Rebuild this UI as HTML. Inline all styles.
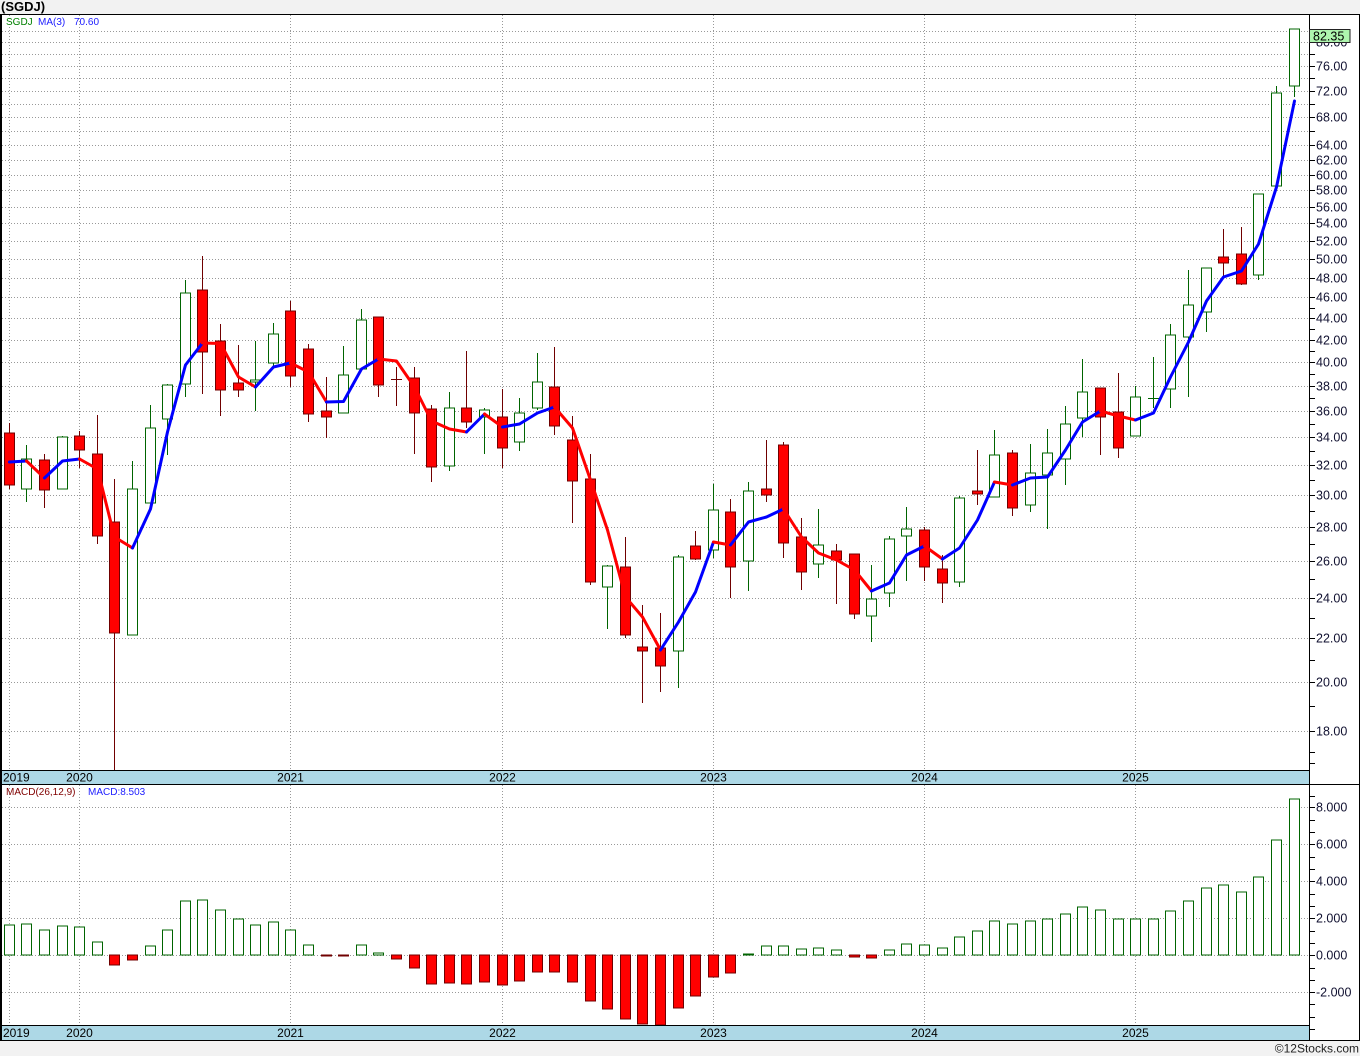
<!DOCTYPE html>
<html><head><meta charset="utf-8"><style>
html,body{margin:0;padding:0;background:#f2f2f2;}
svg{display:block;}
text{font-family:"Liberation Sans",Arial,sans-serif;}
</style></head><body>
<svg width="1360" height="1056" viewBox="0 0 1360 1056" xmlns="http://www.w3.org/2000/svg">
<rect x="0" y="0" width="1360" height="1056" fill="#f2f2f2"/>
<rect x="0" y="14" width="1360" height="1026" fill="#ffffff"/>
<text x="1" y="11" font-size="13" font-weight="bold" fill="#000">(SGDJ)</text>

<!-- horizontal price gridlines -->
<g stroke="#999" stroke-width="1" stroke-dasharray="1,2" shape-rendering="crispEdges">
<path d="M2 731.5H1309M2 682.5H1309M2 638.5H1309M2 598.5H1309M2 561.5H1309M2 527.5H1309M2 495.5H1309M2 465.5H1309M2 437.5H1309M2 411.5H1309M2 386.5H1309M2 362.5H1309M2 340.5H1309M2 318.5H1309M2 297.5H1309M2 278.5H1309M2 259.5H1309M2 241.5H1309M2 223.5H1309M2 207.5H1309M2 190.5H1309M2 175.5H1309M2 160.5H1309M2 145.5H1309M2 131.5H1309M2 117.5H1309M2 104.5H1309M2 91.5H1309M2 78.5H1309M2 66.5H1309M2 54.5H1309M2 42.5H1309M2 31.5H1309"/>
<path d="M9.5 15V770M79.5 15V770M290.5 15V770M502.5 15V770M713.5 15V770M924.5 15V770M1135.5 15V770"/>
<path d="M2 807.5H1309M2 844.5H1309M2 881.5H1309M2 918.5H1309M2 955.5H1309M2 992.5H1309"/>
<path d="M9.5 785V1025M79.5 785V1025M290.5 785V1025M502.5 785V1025M713.5 785V1025M924.5 785V1025M1135.5 785V1025"/>
</g>

<!-- wicks -->
<path fill="none" stroke="#700000" stroke-width="1" shape-rendering="crispEdges" d="M9.5 423V489M44.5 454V508M79.5 431V468M97.5 415V544M114.5 479V770M202.5 256V394M220.5 324V416M238.5 345V397M290.5 301V387M308.5 344V422M326.5 377V438M378.5 317V397M396.5 367V406M414.5 367V454M431.5 405V482M466.5 351V428M502.5 389V468M554.5 347V435M572.5 416V523M590.5 454V585M625.5 537V638M642.5 605V703M660.5 613V692M695.5 531V560M730.5 499V598M766.5 440V502M783.5 442V558M801.5 518V590M836.5 544V604M854.5 554V619M924.5 527V581M942.5 555V603M977.5 450V505M1012.5 450V516M1100.5 388V455M1118.5 373V458M1223.5 229V276M1241.5 227V285"/>
<path fill="none" stroke="#006400" stroke-width="1" shape-rendering="crispEdges" d="M26.5 445V502M62.5 436V489M132.5 461V635M150.5 405V503M167.5 384V455M185.5 280V397M255.5 341V411M273.5 323V368M343.5 346V413M361.5 309V369M449.5 392V471M484.5 408V454M519.5 398V451M537.5 353V410M607.5 565V629M678.5 555V688M713.5 484V558M748.5 482V591M818.5 509V578M871.5 565V642M889.5 536V607M906.5 507V581M959.5 496V587M994.5 430V497M1030.5 444V512M1047.5 429V529M1065.5 406V485M1082.5 359V437M1135.5 386V436M1153.5 357V408M1170.5 324V408M1188.5 270V397M1206.5 268V332M1258.5 194V280M1276.5 86V186M1294.5 29V97"/>

<!-- red bodies -->
<g fill="#ff0000" stroke="#700000" stroke-width="1" shape-rendering="crispEdges">
<rect x="4.5" y="433" width="10" height="52"/>
<rect x="39.5" y="460" width="10" height="30"/>
<rect x="74.5" y="436" width="10" height="14"/>
<rect x="92.5" y="454" width="10" height="82"/>
<rect x="109.5" y="522" width="10" height="111"/>
<rect x="197.5" y="290" width="10" height="62"/>
<rect x="215.5" y="341" width="10" height="49"/>
<rect x="233.5" y="383" width="10" height="7"/>
<rect x="285.5" y="311" width="10" height="65"/>
<rect x="303.5" y="349" width="10" height="65"/>
<rect x="321.5" y="411" width="10" height="6"/>
<rect x="373.5" y="317" width="10" height="68"/>
<rect x="409.5" y="378" width="10" height="35"/>
<rect x="426.5" y="409" width="10" height="58"/>
<rect x="461.5" y="408" width="10" height="14"/>
<rect x="497.5" y="417" width="10" height="31"/>
<rect x="549.5" y="387" width="10" height="39"/>
<rect x="567.5" y="440" width="10" height="41"/>
<rect x="585.5" y="479" width="10" height="103"/>
<rect x="620.5" y="567" width="10" height="68"/>
<rect x="637.5" y="647" width="10" height="4"/>
<rect x="655.5" y="648" width="10" height="18"/>
<rect x="690.5" y="546" width="10" height="13"/>
<rect x="725.5" y="512" width="10" height="55"/>
<rect x="761.5" y="489" width="10" height="6"/>
<rect x="778.5" y="445" width="10" height="98"/>
<rect x="796.5" y="537" width="10" height="35"/>
<rect x="831.5" y="551" width="10" height="9"/>
<rect x="849.5" y="554" width="10" height="60"/>
<rect x="919.5" y="530" width="10" height="37"/>
<rect x="937.5" y="569" width="10" height="14"/>
<rect x="972.5" y="491" width="10" height="3"/>
<rect x="1007.5" y="453" width="10" height="55"/>
<rect x="1095.5" y="388" width="10" height="29"/>
<rect x="1113.5" y="412" width="10" height="36"/>
<rect x="1218.5" y="257" width="10" height="6"/>
<rect x="1236.5" y="254" width="10" height="30"/>
</g>
<path d="M391 379.5H402" stroke="#700000" stroke-width="1" shape-rendering="crispEdges"/>

<!-- green bodies -->
<g fill="#ffffff" stroke="#006400" stroke-width="1" shape-rendering="crispEdges">
<rect x="21.5" y="459" width="10" height="30"/>
<rect x="57.5" y="437" width="10" height="52"/>
<rect x="127.5" y="489" width="10" height="146"/>
<rect x="145.5" y="428" width="10" height="75"/>
<rect x="162.5" y="385" width="10" height="34"/>
<rect x="180.5" y="293" width="10" height="91"/>
<rect x="250.5" y="380" width="10" height="2"/>
<rect x="268.5" y="334" width="10" height="29"/>
<rect x="338.5" y="375" width="10" height="38"/>
<rect x="356.5" y="320" width="10" height="49"/>
<rect x="444.5" y="408" width="10" height="58"/>
<rect x="479.5" y="410" width="10" height="7"/>
<rect x="514.5" y="413" width="10" height="29"/>
<rect x="532.5" y="382" width="10" height="26"/>
<rect x="602.5" y="566" width="10" height="21"/>
<rect x="673.5" y="557" width="10" height="94"/>
<rect x="708.5" y="510" width="10" height="40"/>
<rect x="743.5" y="491" width="10" height="70"/>
<rect x="813.5" y="545" width="10" height="19"/>
<rect x="866.5" y="599" width="10" height="17"/>
<rect x="884.5" y="539" width="10" height="54"/>
<rect x="901.5" y="529" width="10" height="7"/>
<rect x="954.5" y="498" width="10" height="84"/>
<rect x="989.5" y="455" width="10" height="42"/>
<rect x="1025.5" y="473" width="10" height="32"/>
<rect x="1042.5" y="453" width="10" height="22"/>
<rect x="1060.5" y="424" width="10" height="35"/>
<rect x="1077.5" y="392" width="10" height="26"/>
<rect x="1130.5" y="397" width="10" height="39"/>
<rect x="1165.5" y="335" width="10" height="54"/>
<rect x="1183.5" y="305" width="10" height="32"/>
<rect x="1201.5" y="268" width="10" height="44"/>
<rect x="1253.5" y="194" width="10" height="81"/>
<rect x="1271.5" y="93" width="10" height="93"/>
<rect x="1289.5" y="29" width="10" height="57"/>
</g>
<path d="M1148 398.5H1159" stroke="#006400" stroke-width="1" shape-rendering="crispEdges"/>

<!-- MA(3) line -->
<g fill="none" stroke-width="3" stroke-linejoin="round" stroke-linecap="round">
<polyline stroke="#0000ff" points="9.5,462 26.5,461"/>
<polyline stroke="#ff0000" points="26.5,461 44.5,478"/>
<polyline stroke="#0000ff" points="44.5,478 62.5,461 79.5,459"/>
<polyline stroke="#ff0000" points="79.5,459 97.5,469 114.5,537 132.5,548"/>
<polyline stroke="#0000ff" points="132.5,548 150.5,509 167.5,432 185.5,365 202.5,343"/>
<polyline stroke="#ff0000" points="202.5,343 220.5,343.5 238.5,377 255.5,387"/>
<polyline stroke="#0000ff" points="255.5,387 273.5,367 290.5,363"/>
<polyline stroke="#ff0000" points="290.5,363 308.5,372 326.5,402"/>
<polyline stroke="#0000ff" points="326.5,402 343.5,401.5 361.5,369 378.5,359"/>
<polyline stroke="#ff0000" points="378.5,359 396.5,361 414.5,387 431.5,421 449.5,429 466.5,432"/>
<polyline stroke="#0000ff" points="466.5,432 484.5,414"/>
<polyline stroke="#ff0000" points="484.5,414 502.5,427"/>
<polyline stroke="#0000ff" points="502.5,427 519.5,424 537.5,413 554.5,407"/>
<polyline stroke="#ff0000" points="554.5,407 572.5,428 590.5,480 607.5,530 625.5,597 642.5,617 660.5,650"/>
<polyline stroke="#0000ff" points="660.5,650 678.5,622 695.5,592 713.5,542"/>
<polyline stroke="#ff0000" points="713.5,542 730.5,545"/>
<polyline stroke="#0000ff" points="730.5,545 748.5,522 766.5,517 783.5,509"/>
<polyline stroke="#ff0000" points="783.5,509 801.5,537 818.5,553 836.5,560 854.5,570 871.5,591"/>
<polyline stroke="#0000ff" points="871.5,591 889.5,583 906.5,555 924.5,546"/>
<polyline stroke="#ff0000" points="924.5,546 942.5,559"/>
<polyline stroke="#0000ff" points="942.5,559 959.5,548 977.5,520 994.5,482"/>
<polyline stroke="#ff0000" points="994.5,482 1012.5,485"/>
<polyline stroke="#0000ff" points="1012.5,485 1030.5,478 1047.5,477 1065.5,450 1082.5,422 1100.5,411"/>
<polyline stroke="#ff0000" points="1100.5,411 1118.5,416 1135.5,420"/>
<polyline stroke="#0000ff" points="1135.5,420 1153.5,413 1170.5,377 1188.5,342 1206.5,301 1223.5,277 1241.5,271 1258.5,244 1276.5,187 1294.5,101"/>
</g>

<!-- MACD histogram positive -->
<g fill="#ffffff" stroke="#006400" stroke-width="1" shape-rendering="crispEdges">
<rect x="4.5" y="925" width="10" height="30"/>
<rect x="21.5" y="924" width="10" height="31"/>
<rect x="39.5" y="930" width="10" height="25"/>
<rect x="57.5" y="926" width="10" height="29"/>
<rect x="74.5" y="927" width="10" height="28"/>
<rect x="92.5" y="942" width="10" height="13"/>
<rect x="145.5" y="946" width="10" height="9"/>
<rect x="162.5" y="930" width="10" height="25"/>
<rect x="180.5" y="901" width="10" height="54"/>
<rect x="197.5" y="900" width="10" height="55"/>
<rect x="215.5" y="910" width="10" height="45"/>
<rect x="233.5" y="919" width="10" height="36"/>
<rect x="250.5" y="925" width="10" height="30"/>
<rect x="268.5" y="922" width="10" height="33"/>
<rect x="285.5" y="930" width="10" height="25"/>
<rect x="303.5" y="945" width="10" height="10"/>
<rect x="356.5" y="945" width="10" height="10"/>
<rect x="373.5" y="953" width="10" height="2"/>
<rect x="743.5" y="954" width="10" height="1"/>
<rect x="761.5" y="946" width="10" height="9"/>
<rect x="778.5" y="946" width="10" height="9"/>
<rect x="796.5" y="949" width="10" height="6"/>
<rect x="813.5" y="948" width="10" height="7"/>
<rect x="831.5" y="950" width="10" height="5"/>
<rect x="884.5" y="950" width="10" height="5"/>
<rect x="901.5" y="944" width="10" height="11"/>
<rect x="919.5" y="945" width="10" height="10"/>
<rect x="937.5" y="948" width="10" height="7"/>
<rect x="954.5" y="937" width="10" height="18"/>
<rect x="972.5" y="931" width="10" height="24"/>
<rect x="989.5" y="921" width="10" height="34"/>
<rect x="1007.5" y="924" width="10" height="31"/>
<rect x="1025.5" y="921" width="10" height="34"/>
<rect x="1042.5" y="919" width="10" height="36"/>
<rect x="1060.5" y="914" width="10" height="41"/>
<rect x="1077.5" y="907" width="10" height="48"/>
<rect x="1095.5" y="910" width="10" height="45"/>
<rect x="1113.5" y="919" width="10" height="36"/>
<rect x="1130.5" y="919" width="10" height="36"/>
<rect x="1148.5" y="919" width="10" height="36"/>
<rect x="1165.5" y="911" width="10" height="44"/>
<rect x="1183.5" y="901" width="10" height="54"/>
<rect x="1201.5" y="888" width="10" height="67"/>
<rect x="1218.5" y="885" width="10" height="70"/>
<rect x="1236.5" y="892" width="10" height="63"/>
<rect x="1253.5" y="877" width="10" height="78"/>
<rect x="1271.5" y="840" width="10" height="115"/>
<rect x="1289.5" y="799" width="10" height="156"/>
</g>
<!-- MACD histogram negative -->
<g fill="#ff0000" stroke="#700000" stroke-width="1" shape-rendering="crispEdges">
<rect x="109.5" y="955" width="10" height="10"/>
<rect x="127.5" y="955" width="10" height="5"/>
<rect x="321.5" y="955" width="10" height="1"/>
<rect x="338.5" y="955" width="10" height="1"/>
<rect x="391.5" y="955" width="10" height="4"/>
<rect x="409.5" y="955" width="10" height="13"/>
<rect x="426.5" y="955" width="10" height="29"/>
<rect x="444.5" y="955" width="10" height="28"/>
<rect x="461.5" y="955" width="10" height="29"/>
<rect x="479.5" y="955" width="10" height="27"/>
<rect x="497.5" y="955" width="10" height="30"/>
<rect x="514.5" y="955" width="10" height="26"/>
<rect x="532.5" y="955" width="10" height="17"/>
<rect x="549.5" y="955" width="10" height="17"/>
<rect x="567.5" y="955" width="10" height="27"/>
<rect x="585.5" y="955" width="10" height="46"/>
<rect x="602.5" y="955" width="10" height="54"/>
<rect x="620.5" y="955" width="10" height="64"/>
<rect x="637.5" y="955" width="10" height="69"/>
<rect x="655.5" y="955" width="10" height="70"/>
<rect x="673.5" y="955" width="10" height="53"/>
<rect x="690.5" y="955" width="10" height="41"/>
<rect x="708.5" y="955" width="10" height="22"/>
<rect x="725.5" y="955" width="10" height="18"/>
<rect x="849.5" y="955" width="10" height="2"/>
<rect x="866.5" y="955" width="10" height="3"/>
</g>

<!-- date bars -->
<rect x="1" y="771" width="1308" height="13" fill="#add8e6"/>
<rect x="1" y="1026" width="1308" height="14" fill="#add8e6"/>
<g stroke="#000" stroke-width="1" shape-rendering="crispEdges">
<path d="M0 770.5H1309M0 784.5H1360M0 1025.5H1309M0 1040.5H1360M0 14.5H1360M1309.5 14V1040M1359.5 14V1040"/>
</g>
<rect x="0" y="14" width="2" height="1027" fill="#000"/>
<rect x="0" y="1041" width="1360" height="15" fill="#f2f2f2"/>

<g font-size="12" fill="#000">
<text x="3" y="781.5">2019</text>
<text x="79.5" y="781.5" text-anchor="middle">2020</text>
<text x="290.5" y="781.5" text-anchor="middle">2021</text>
<text x="502.5" y="781.5" text-anchor="middle">2022</text>
<text x="713.5" y="781.5" text-anchor="middle">2023</text>
<text x="924.5" y="781.5" text-anchor="middle">2024</text>
<text x="1135.5" y="781.5" text-anchor="middle">2025</text>
<text x="3" y="1037">2019</text>
<text x="79.5" y="1037" text-anchor="middle">2020</text>
<text x="290.5" y="1037" text-anchor="middle">2021</text>
<text x="502.5" y="1037" text-anchor="middle">2022</text>
<text x="713.5" y="1037" text-anchor="middle">2023</text>
<text x="924.5" y="1037" text-anchor="middle">2024</text>
<text x="1135.5" y="1037" text-anchor="middle">2025</text>
</g>

<!-- right axis ticks -->
<path stroke="#000" stroke-width="1" shape-rendering="crispEdges" fill="none" d="M1309 731.5H1315M1309 682.5H1315M1309 638.5H1315M1309 598.5H1315M1309 561.5H1315M1309 527.5H1315M1309 495.5H1315M1309 465.5H1315M1309 437.5H1315M1309 411.5H1315M1309 386.5H1315M1309 362.5H1315M1309 340.5H1315M1309 318.5H1315M1309 297.5H1315M1309 278.5H1315M1309 259.5H1315M1309 241.5H1315M1309 223.5H1315M1309 207.5H1315M1309 190.5H1315M1309 175.5H1315M1309 160.5H1315M1309 145.5H1315M1309 131.5H1315M1309 117.5H1315M1309 104.5H1315M1309 91.5H1315M1309 78.5H1315M1309 66.5H1315M1309 54.5H1315M1309 42.5H1315M1309 31.5H1315M1309 752.5H1315M1309 763.5H1315M1309 706.5H1315M1309 660.5H1315M1309 618.5H1315M1309 579.5H1315M1309 544.5H1315M1309 511.5H1315M1309 480.5H1315M1309 451.5H1315M1309 424.5H1315M1309 398.5H1315M1309 374.5H1315M1309 351.5H1315M1309 329.5H1315M1309 308.5H1315M1309 796.5H1315M1309 807.5H1315M1309 820.5H1315M1309 832.5H1315M1309 844.5H1315M1309 857.5H1315M1309 869.5H1315M1309 881.5H1315M1309 894.5H1315M1309 906.5H1315M1309 918.5H1315M1309 931.5H1315M1309 943.5H1315M1309 955.5H1315M1309 968.5H1315M1309 980.5H1315M1309 992.5H1315M1309 1004.5H1315M1309 1017.5H1315M1309 1029.5H1315"/>

<g font-size="12.5" fill="#101030">
<text x="1316" y="735.5">18.00</text>
<text x="1316" y="686.5">20.00</text>
<text x="1316" y="642.5">22.00</text>
<text x="1316" y="602.5">24.00</text>
<text x="1316" y="565.5">26.00</text>
<text x="1316" y="531.5">28.00</text>
<text x="1316" y="499.5">30.00</text>
<text x="1316" y="469.5">32.00</text>
<text x="1316" y="441.5">34.00</text>
<text x="1316" y="415.5">36.00</text>
<text x="1316" y="390.5">38.00</text>
<text x="1316" y="366.5">40.00</text>
<text x="1316" y="344.5">42.00</text>
<text x="1316" y="322.5">44.00</text>
<text x="1316" y="301.5">46.00</text>
<text x="1316" y="282.5">48.00</text>
<text x="1316" y="263.5">50.00</text>
<text x="1316" y="245.5">52.00</text>
<text x="1316" y="227.5">54.00</text>
<text x="1316" y="211.5">56.00</text>
<text x="1316" y="194.5">58.00</text>
<text x="1316" y="179.5">60.00</text>
<text x="1316" y="164.5">62.00</text>
<text x="1316" y="149.5">64.00</text>
<text x="1316" y="121.5">68.00</text>
<text x="1316" y="95.5">72.00</text>
<text x="1316" y="70.5">76.00</text>
<text x="1316" y="46.5">80.00</text>
<text x="1316" y="811.5">8.000</text>
<text x="1316" y="848.5">6.000</text>
<text x="1316" y="885.5">4.000</text>
<text x="1316" y="922.5">2.000</text>
<text x="1316" y="959.5">0.000</text>
<text x="1316" y="996.5">-2.000</text>
</g>
<rect x="1309.5" y="29.5" width="40.5" height="13" fill="#aef5ae" stroke="#222" stroke-width="1" shape-rendering="crispEdges"/>
<text x="1313" y="40.5" font-size="12.5" fill="#000">82.35</text>

<!-- legends -->
<g font-size="10">
<text x="6" y="25" fill="#008000">SGDJ</text>
<text x="38" y="25" fill="#2020ff">MA(3)</text>
<text x="74" y="25" fill="#2020ff">70.60</text>
<text x="6" y="795" fill="#800000">MACD(26,12,9)</text>
<text x="88" y="795" fill="#2020ff">MACD:8.503</text>
</g>
<text x="1359" y="1052.5" font-size="12" fill="#222" text-anchor="end">©12Stocks.com</text>
</svg>
</body></html>
